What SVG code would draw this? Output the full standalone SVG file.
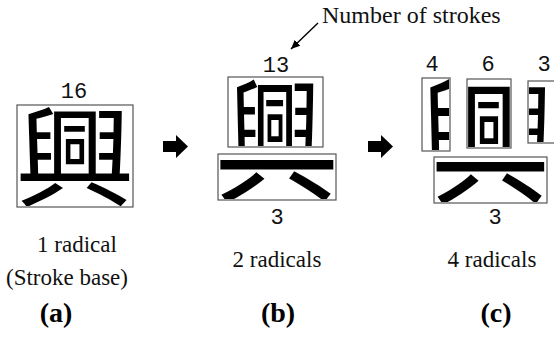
<svg xmlns="http://www.w3.org/2000/svg" xmlns:xlink="http://www.w3.org/1999/xlink" width="554" height="338" viewBox="0 0 554 338">
  <style>
    .box { fill: none; stroke: #555; stroke-width: 1.2; }
    .num { font-family: "Liberation Mono", "DejaVu Sans Mono", monospace; font-size: 22px; fill: #111; text-anchor: middle; }
    .lbl { font-family: "Liberation Serif", "DejaVu Serif", serif; font-size: 23px; fill: #111; text-anchor: middle; }
    .tag { font-family: "Liberation Serif", "DejaVu Serif", serif; font-size: 28px; font-weight: bold; fill: #000; text-anchor: middle; }
    .note { font-family: "Liberation Serif", "DejaVu Serif", serif; font-size: 24px; fill: #111; }
    .blk { fill: #000; }
    .ptr { stroke: #000; stroke-width: 1.4; fill: none; }
  </style>
  <defs>
    <!-- the character, centred on x=0 with its baseline on y=0 -->
    <text id="xing" x="0" y="0" font-family="'Noto Sans CJK TC', 'Noto Sans CJK JP', sans-serif" font-size="100" font-weight="400" text-anchor="middle" fill="#000">興</text>
    <clipPath id="cA"><rect x="18" y="106" width="114" height="100"/></clipPath>
    <clipPath id="cBtop"><rect x="229" y="78" width="93" height="68"/></clipPath>
    <clipPath id="cBbot"><rect x="219" y="160" width="116" height="39"/></clipPath>
    <clipPath id="cC1"><rect x="423" y="79" width="26" height="71"/></clipPath>
    <clipPath id="cC2"><rect x="468" y="80" width="42" height="67"/></clipPath>
    <clipPath id="cC3"><rect x="529" y="82" width="30" height="60"/></clipPath>
    <clipPath id="cCbot"><rect x="435" y="162" width="111" height="40"/></clipPath>
    <marker id="head" markerWidth="10" markerHeight="10" refX="9" refY="5" orient="auto" markerUnits="userSpaceOnUse">
      <path d="M0,1 L9,5 L0,9 Z" fill="#000"/>
    </marker>
  </defs>

  <!-- (a) whole character, stroke base -->
  <g id="node-a">
    <text class="num" x="74" y="98">16</text>
    <rect class="box" x="17" y="105" width="116" height="102"/>
    <g clip-path="url(#cA)">
      <use xlink:href="#xing" href="#xing" transform="translate(75,198) scale(1.2,1.09)"/>
    </g>
    <text class="lbl" x="77" y="252">1 radical</text>
    <text class="lbl" x="67" y="285">(Stroke base)</text>
    <text class="tag" x="56" y="322">(a)</text>
  </g>

  <!-- (b) two radicals -->
  <g id="node-b">
    <text class="num" x="276" y="72">13</text>
    <rect class="box" x="228" y="77" width="95" height="70"/>
    <g clip-path="url(#cBtop)">
      <use xlink:href="#xing" href="#xing" transform="translate(275,178.8) scale(0.98,1.19)"/>
    </g>
    <rect class="box" x="218" y="154" width="118" height="46"/>
    <g clip-path="url(#cBbot)">
      <use xlink:href="#xing" href="#xing" transform="translate(277,190.6) scale(1.25,1.39)"/>
    </g>
    <text class="num" x="277" y="224">3</text>
    <text class="lbl" x="277" y="267">2 radicals</text>
    <text class="tag" x="278" y="322">(b)</text>
  </g>

  <!-- (c) four radicals -->
  <g id="node-c">
    <text class="num" x="432" y="71">4</text>
    <text class="num" x="488" y="71">6</text>
    <text class="num" x="544" y="71">3</text>
    <rect class="box" x="422" y="78" width="28" height="73"/>
    <g clip-path="url(#cC1)">
      <use xlink:href="#xing" href="#xing" transform="translate(473,186) scale(1.1,1.28)"/>
    </g>
    <rect class="box" x="467" y="79" width="44" height="69"/>
    <g clip-path="url(#cC2)">
      <use xlink:href="#xing" href="#xing" transform="translate(489,180.8) scale(1.2,1.19)"/>
    </g>
    <rect class="box" x="528" y="81" width="30" height="62"/>
    <g clip-path="url(#cC3)">
      <use xlink:href="#xing" href="#xing" transform="translate(506,172) scale(1.0,1.06)"/>
    </g>
    <rect class="box" x="434" y="157" width="113" height="46"/>
    <g clip-path="url(#cCbot)">
      <use xlink:href="#xing" href="#xing" transform="translate(490.5,192.6) scale(1.19,1.39)"/>
    </g>
    <text class="num" x="495" y="224">3</text>
    <text class="lbl" x="492" y="267">4 radicals</text>
    <text class="tag" x="496" y="322">(c)</text>
  </g>

  <!-- pointer note -->
  <g id="note">
    <text class="note" x="322" y="23">Number of strokes</text>
  </g>

  <g id="connectors">
    <polygon class="blk" points="163,141 176,141 176,135 188,146.5 176,158 176,152 163,152"/>
    <polygon class="blk" points="368,141 381,141 381,135 393,146.5 381,158 381,152 368,152"/>
    <line class="ptr" x1="318" y1="23" x2="291" y2="49" marker-end="url(#head)"/>
  </g>
</svg>
